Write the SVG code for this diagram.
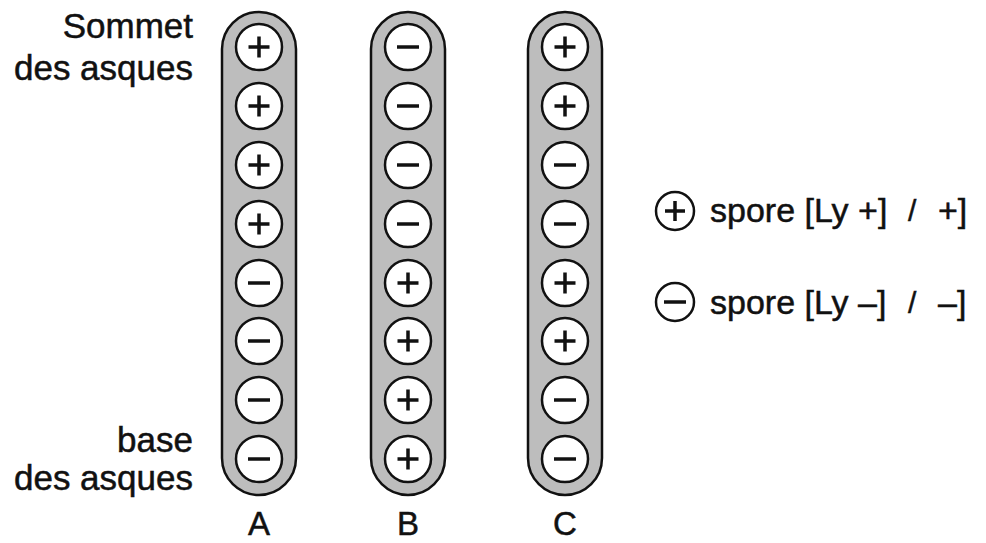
<svg xmlns="http://www.w3.org/2000/svg" xmlns:xlink="http://www.w3.org/1999/xlink" width="986" height="543" viewBox="0 0 986 543">
<style>
.tube{fill:#bdbdbd;stroke:#111;stroke-width:2.5}
.spore{fill:#fff;stroke:#111;stroke-width:2.5}
.sign{stroke:#111;stroke-width:3.5;fill:none;stroke-linecap:butt}
.t{font-family:"Liberation Sans",Arial,Helvetica,sans-serif;fill:#111;stroke:#111;stroke-width:0.5}
</style>
<defs>
<g id="plus"><circle class="spore" r="23"/><path class="sign" d="M-10.5,0H10.5M0,-10.5V10.5"/></g>
<g id="minus"><circle class="spore" r="23"/><path class="sign" d="M-11,0H11"/></g>
</defs>
<rect width="986" height="543" fill="#fff"/>
<g id="labels-left">
<text class="t" x="193" y="38" font-size="35" text-anchor="end">Sommet</text>
<text class="t" x="193" y="80" font-size="35" text-anchor="end">des asques</text>
<text class="t" x="193" y="452" font-size="35" text-anchor="end">base</text>
<text class="t" x="193" y="490" font-size="35" text-anchor="end">des asques</text>
</g>
<g id="ascus-A">
<rect class="tube" x="222" y="12" width="74" height="483" rx="37"/>
<use xlink:href="#plus" x="259" y="47"/>
<use xlink:href="#plus" x="259" y="106"/>
<use xlink:href="#plus" x="259" y="165"/>
<use xlink:href="#plus" x="259" y="224"/>
<use xlink:href="#minus" x="259" y="283"/>
<use xlink:href="#minus" x="259" y="341"/>
<use xlink:href="#minus" x="259" y="400"/>
<use xlink:href="#minus" x="259" y="459"/>
<text class="t" x="259" y="535" font-size="33" text-anchor="middle">A</text>
</g>
<g id="ascus-B">
<rect class="tube" x="371" y="12" width="74" height="483" rx="37"/>
<use xlink:href="#minus" x="408" y="47"/>
<use xlink:href="#minus" x="408" y="106"/>
<use xlink:href="#minus" x="408" y="165"/>
<use xlink:href="#minus" x="408" y="224"/>
<use xlink:href="#plus" x="408" y="283"/>
<use xlink:href="#plus" x="408" y="341"/>
<use xlink:href="#plus" x="408" y="400"/>
<use xlink:href="#plus" x="408" y="459"/>
<text class="t" x="408" y="535" font-size="33" text-anchor="middle">B</text>
</g>
<g id="ascus-C">
<rect class="tube" x="528" y="12" width="74" height="483" rx="37"/>
<use xlink:href="#plus" x="565" y="47"/>
<use xlink:href="#plus" x="565" y="106"/>
<use xlink:href="#minus" x="565" y="165"/>
<use xlink:href="#minus" x="565" y="224"/>
<use xlink:href="#plus" x="565" y="283"/>
<use xlink:href="#plus" x="565" y="341"/>
<use xlink:href="#minus" x="565" y="400"/>
<use xlink:href="#minus" x="565" y="459"/>
<text class="t" x="565" y="535" font-size="33" text-anchor="middle">C</text>
</g>
<g id="legend-plus">
<circle class="spore" cx="675" cy="211" r="19" stroke-width="2.2"/>
<path class="sign" stroke-width="3.2" d="M665,211H685M675,201V221"/>
<text class="t" x="710" y="222" font-size="34">spore [Ly +]</text>
<text class="t" x="908" y="221" font-size="30">/</text>
<text class="t" x="938" y="222" font-size="34">+]</text>
</g>
<g id="legend-minus">
<circle class="spore" cx="675" cy="302" r="19" stroke-width="2.2"/>
<path class="sign" stroke-width="3.2" d="M664,302H686"/>
<text class="t" x="710" y="314" font-size="34">spore [Ly –]</text>
<text class="t" x="908" y="313" font-size="30">/</text>
<text class="t" x="938" y="314" font-size="34">–]</text>
</g>
</svg>
